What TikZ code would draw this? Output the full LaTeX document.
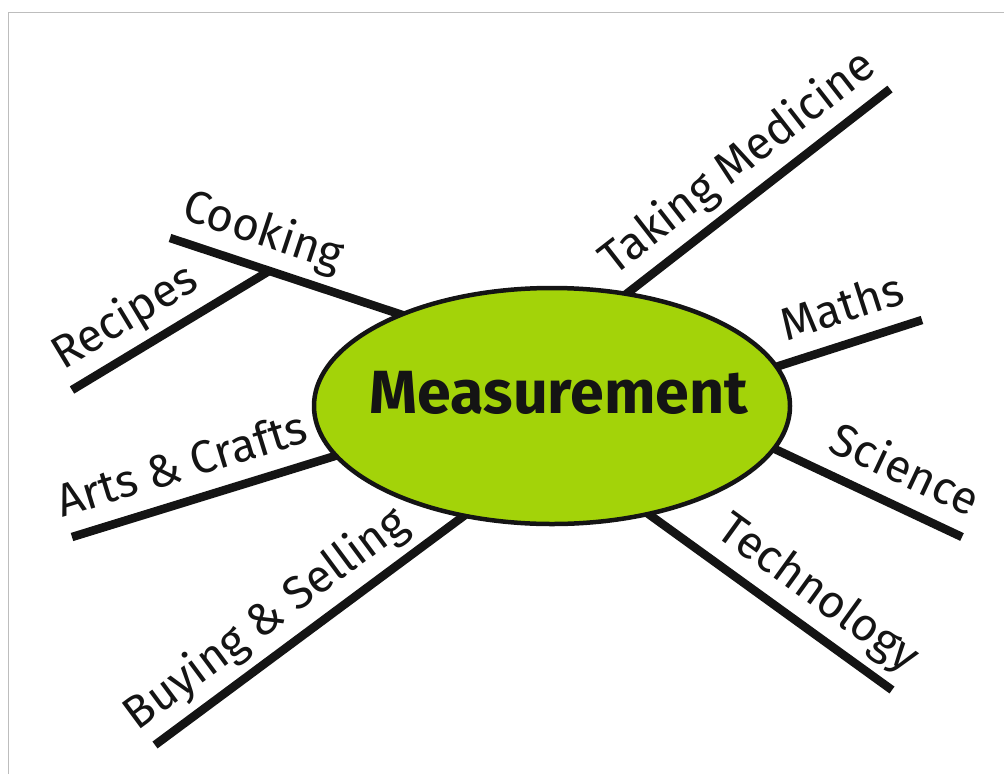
\documentclass[tikz,border=0pt]{standalone}
\usepackage{fontspec}
\setmainfont{Fira Sans}
\usetikzlibrary{shapes.geometric,backgrounds}
\definecolor{ink}{HTML}{141414}
\definecolor{leaf}{HTML}{A3D309}
\definecolor{framegray}{HTML}{BDBDBD}
\tikzset{
  branch/.style={ink, line width=8.5pt},
  twig/.style={sloped, above=17pt, inner sep=0pt, text depth=0pt, text=ink, font=\fontsize{46}{46}\selectfont},
}
\begin{document}
\begin{tikzpicture}[x=1pt,y=-1pt]
  \useasboundingbox (0,0) rectangle (1004,774);
  % Frame
  \draw[framegray, line width=1pt] (8,774) -- (8,12) -- (1004,12);
  % Centre
  \node[ellipse, draw=ink, line width=4.5pt, fill=leaf, minimum width=476pt, minimum height=236pt, inner sep=0pt] (m) at (552,406) {};
  \node[text=ink, font=\bfseries\fontsize{61}{61}\selectfont] (mt) at (559,393) {Measurement};
  % Free ends
  \coordinate (ck) at (170,238);
  \coordinate (rc) at (72,390);
  \coordinate (tm) at (890,89);
  \coordinate (ma) at (922,320);
  \coordinate (sc) at (962,537);
  \coordinate (te) at (892,690);
  \coordinate (bs) at (155,745);
  \coordinate (ac) at (72,537);
  % Branches
  \begin{pgfonlayer}{background}
    \draw[branch, shorten >=-6pt] (ck) -- (m.149) node[twig, pos=0.36] (lck) {Cooking} coordinate[pos=0.435] (cj);
    \draw[branch] (rc) -- (cj) node[twig, pos=0.36] (lrc) {Recipes};
    \draw[branch, shorten <=-6pt] (m.56) -- (tm) node[twig, pos=0.5] (ltm) {Taking Medicine};
    \draw[branch, shorten <=-6pt] (m.10) -- (ma) node[twig, pos=0.52] (lma) {Maths};
    \draw[branch, shorten <=-6pt] (m.-11.3) -- (sc) node[twig, pos=0.61] (lsc) {Science};
    \draw[branch, shorten <=-6pt] (m.-48.3) -- (te) node[twig, pos=0.61] (lte) {Technology};
    \draw[branch, shorten >=-6pt] (bs) -- (m.-129) node[twig, pos=0.43] (lbs) {Buying \& Selling};
    \draw[branch, shorten >=-6pt] (ac) -- (m.193) node[twig, pos=0.46] (lac) {Arts \& Crafts};
  \end{pgfonlayer}
\end{tikzpicture}
\end{document}
